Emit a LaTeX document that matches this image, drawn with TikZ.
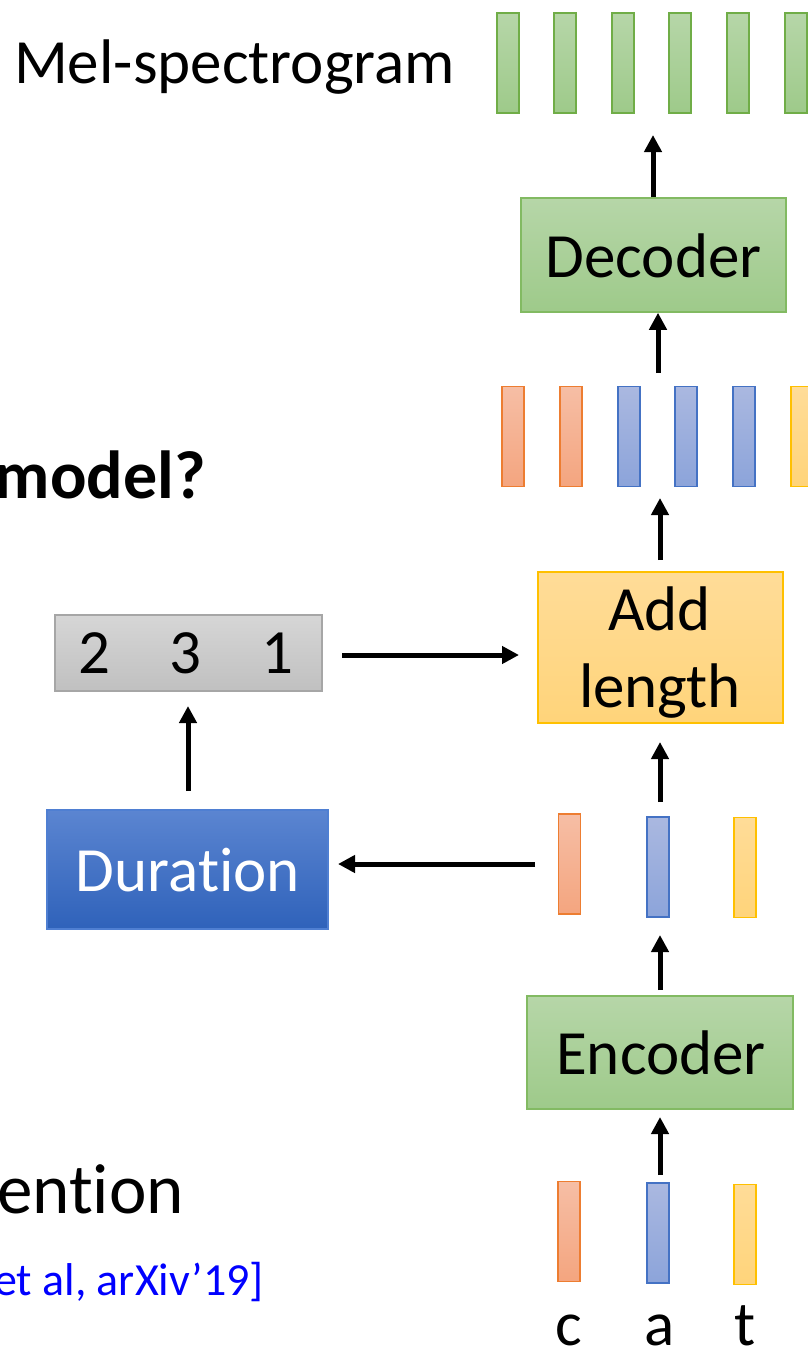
\documentclass[tikz,border=0pt]{standalone}
\usepackage{fontspec}
\setmainfont{Carlito}[Ligatures=NoCommon]
\usetikzlibrary{arrows.meta}
\definecolor{grT}{HTML}{B6D6A8}
\definecolor{grB}{HTML}{9ECA8A}
\definecolor{grD}{HTML}{70AD47}
\definecolor{grBox}{HTML}{82BA62}
\definecolor{orT}{HTML}{F6BEA5}
\definecolor{orB}{HTML}{F4A57F}
\definecolor{orD}{HTML}{ED7D31}
\definecolor{blT}{HTML}{AAB8E0}
\definecolor{blB}{HTML}{8CA4DA}
\definecolor{blD}{HTML}{4472C4}
\definecolor{yeT}{HTML}{FFDC98}
\definecolor{yeB}{HTML}{FFD47A}
\definecolor{yeD}{HTML}{FFC000}
\definecolor{gyT}{HTML}{D6D6D6}
\definecolor{gyB}{HTML}{C0C0C0}
\definecolor{gyD}{HTML}{A6A6A6}
\definecolor{duT}{HTML}{5B85D1}
\definecolor{duB}{HTML}{2F62BA}
\definecolor{duD}{HTML}{4F7FD2}
\definecolor{citeblue}{HTML}{0000FF}
\begin{document}
\begin{tikzpicture}[x=1pt,y=-1pt,
  arr/.style={line width=5pt,-{Triangle[length=17pt,width=17pt]}},
  bar/.style={rectangle,inner sep=0pt,minimum width=22pt,minimum height=100pt,line width=1.3pt},
  gbar/.style={bar,draw=grD,top color=grT,bottom color=grB},
  obar/.style={bar,draw=orD,top color=orT,bottom color=orB},
  bbar/.style={bar,draw=blD,top color=blT,bottom color=blB},
  ybar/.style={bar,draw=yeD,top color=yeT,bottom color=yeB},
  box/.style={rectangle,inner sep=0pt,line width=1.5pt},
  greenbox/.style={box,draw=grBox,top color=grT,bottom color=grB},
  txt/.style={inner sep=0pt,font=\fontsize{63}{76}\selectfont},
]
\clip (0,0) rectangle (808,1352);
\fill[white] (0,0) rectangle (808,1352);

% Mel-spectrogram row
\node[txt,anchor=base] (meltxt) at (234.5,83) {Mel-spectrogram};
\node[gbar] (m1) at (508,63) {};
\node[gbar] (m2) at (565,63) {};
\node[gbar] (m3) at (623,63) {};
\node[gbar] (m4) at (680,63) {};
\node[gbar] (m5) at (738,63) {};
\node[gbar] (m6) at (796,63) {};

% Decoder
\node[greenbox,minimum width=265pt,minimum height=114pt] (dec) at (653.5,255) {};
\node[txt,anchor=base] (dectxt) at (653.5,277) {Decoder};

% expanded row
\node[obar] (r1) at (513,436.5) {};
\node[obar] (r2) at (571,436.5) {};
\node[bbar] (r3) at (629,436.5) {};
\node[bbar] (r4) at (686,436.5) {};
\node[bbar] (r5) at (744,436.5) {};
\node[ybar] (r6) at (802,436.5) {};

% model?
\node[inner sep=0pt,font=\fontsize{68}{80}\selectfont\bfseries,anchor=base east] (modeltxt) at (206,498) {model?};

% Add length
\node[box,draw=yeD,top color=yeT,bottom color=yeB,minimum width=245pt,minimum height=151pt] (add) at (660.5,647.5) {};
\node[txt,anchor=base] (addtxt1) at (659.5,630) {Add};
\node[txt,anchor=base] (addtxt2) at (660,707) {length};

% Gray durations
\node[box,draw=gyD,line width=1.2pt,top color=gyT,bottom color=gyB,minimum width=267pt,minimum height=76pt] (gray) at (188.5,653) {};
\node[txt,anchor=base] (d2) at (94,673) {2};
\node[txt,anchor=base] (d3) at (185,673) {3};
\node[txt,anchor=base] (d1) at (277,673) {1};

% Duration
\node[box,draw=duD,top color=duT,bottom color=duB,minimum width=281pt,minimum height=119pt] (dur) at (187.5,869.5) {};
\node[txt,text=white,anchor=base] (durtxt) at (188,891) {Duration};

% encoder output row
\node[obar] (e1) at (569.5,864) {};
\node[bbar] (e2) at (658,867) {};
\node[ybar] (e3) at (745,867.5) {};

% Encoder
\node[greenbox,minimum width=266pt,minimum height=113pt] (enc) at (660,1052.5) {};
\node[txt,anchor=base] (enctxt) at (661,1074) {Encoder};

% input row
\node[obar] (i1) at (569,1231.5) {};
\node[bbar] (i2) at (658,1233) {};
\node[ybar] (i3) at (745,1234.5) {};
\node[txt,anchor=base] (lc) at (569,1345) {c};
\node[txt,anchor=base] (la) at (660,1345) {a};
\node[txt,anchor=base] (lt) at (745,1345) {t};

% left texts
\node[inner sep=0pt,font=\fontsize{71}{84}\selectfont,anchor=base east] (ention) at (184,1213) {ention};
\node[inner sep=0pt,font=\fontsize{46}{55}\selectfont,text=citeblue,anchor=base east] (cite) at (264,1295) {et al, arXiv’19]};

% coordinates
\coordinate (melTip) at (653,135);
\coordinate (decTail) at (658,373);
\coordinate (addTail) at (660,560);
\coordinate (addTip) at (660,498);
\coordinate (eTail) at (660,802);
\coordinate (encTip) at (660,935);
\coordinate (encTail) at (660,990);
\coordinate (inTail) at (660,1175);
\coordinate (durTail) at (188,791);
\coordinate (grayTip) at (188,706);
\coordinate (rTail) at (342,655);
\coordinate (rTip) at (519,655);
\coordinate (lTail) at (535,864);
\coordinate (lTip) at (338,864);

% arrows
\draw[arr] (653,0 |- dec.north) -- (melTip);
\draw[arr] (decTail) -- (decTail |- dec.south);
\draw[arr] (addTail) -- (addTip);
\draw[arr] (eTail) -- (660,742);
\draw[arr] (encTail) -- (encTip);
\draw[arr] (inTail) -- (660,1117);
\draw[arr] (durTail) -- (grayTip);
\draw[arr] (rTail) -- (rTip);
\draw[arr] (lTail) -- (lTip);
\end{tikzpicture}
\end{document}
